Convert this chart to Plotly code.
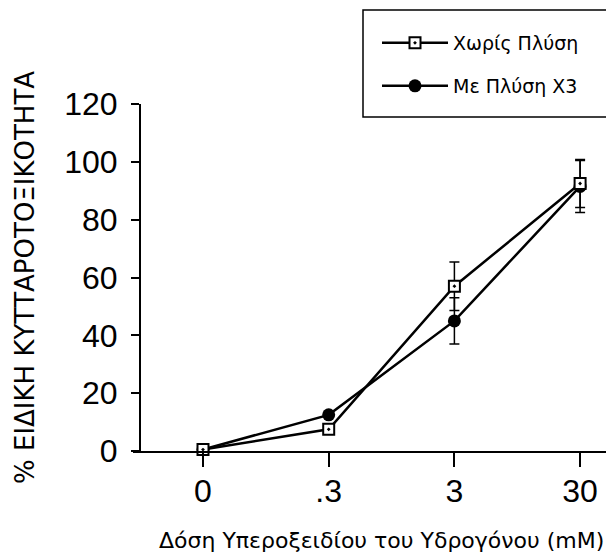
import plotly.graph_objects as go

dose_labels = ["0", ".3", "3", "30"]
dose_pos = [0, 1, 2, 3]

no_wash_name = "Χωρίς Πλύση"
no_wash = [0.5, 7.5, 57, 92.5]
no_wash_err = [0, 0, 8.4, 8.3]

wash_name = "Με Πλύση X3"
wash = [0.5, 12.5, 45, 91.5]
wash_err = [0, 0, 8, 9]

y_ticks = [0, 20, 40, 60, 80, 100, 120]

FONT = "Liberation Sans"
TFONT = "DejaVu Sans"

# page has an 8px body margin; layout is specified in window pixels
OFF = 8
W, H = 614 - OFF, 554 - OFF
plot_left = 133
plot_top, plot_bottom = 104, 451      # window px (y=120 .. y=0)
L = plot_left - OFF
R = 0
T = plot_top - OFF
B = H - (plot_bottom - OFF)
pw = W - L - R
ph = H - T - B


def px(xw):
    return (xw - plot_left) / pw


def py(yw):
    return (plot_bottom - yw) / ph


px_per_x = 125.7
x0_win = 203
xr = [(plot_left - x0_win) / px_per_x, (plot_left + pw - x0_win) / px_per_x]

fig = go.Figure()
fig.add_trace(go.Scatter(
    x=dose_pos, y=wash, name=wash_name, mode="lines+markers",
    line=dict(color="black", width=2.5),
    marker=dict(symbol="circle", size=13, color="black"),
    error_y=dict(type="data", array=wash_err, visible=True, color="black", thickness=1.5, width=5),
    cliponaxis=False, legend="legend2",
))
fig.add_trace(go.Scatter(
    x=dose_pos, y=no_wash, name=no_wash_name, mode="lines+markers",
    line=dict(color="black", width=2.5),
    marker=dict(symbol="square-dot", size=11, color="white", line=dict(color="black", width=2)),
    error_y=dict(type="data", array=no_wash_err, visible=True, color="black", thickness=1.5, width=5),
    cliponaxis=False, legend="legend",
))

leg_common = dict(
    xanchor="left", yanchor="middle",
    font=dict(size=19, family=TFONT), bgcolor="rgba(0,0,0,0)",
    itemwidth=66,
)

fig.update_layout(
    width=W, height=H,
    margin=dict(l=L, r=R, t=T, b=B),
    paper_bgcolor="white", plot_bgcolor="white",
    font=dict(family=FONT, color="black"),
    showlegend=True,
    legend=dict(x=px(377), y=py(43), **leg_common),
    legend2=dict(x=px(377), y=py(86), **leg_common),
    xaxis=dict(
        range=xr, tickvals=dose_pos, ticktext=dose_labels,
        showline=True, linecolor="black", linewidth=2,
        ticks="outside", ticklen=14, tickwidth=2, tickcolor="black",
        tickfont=dict(size=32, family=FONT), showgrid=False, zeroline=False,
        ticklabelstandoff=-3,
    ),
    yaxis=dict(
        range=[0, 120], tickvals=y_ticks, anchor="free", position=px(140),
        showline=True, linecolor="black", linewidth=2,
        ticks="outside", ticklen=8, tickwidth=2, tickcolor="black",
        tickfont=dict(size=32, family=FONT), showgrid=False, zeroline=False,
        ticklabelstandoff=7,
    ),
    shapes=[dict(
        type="rect", xref="paper", yref="paper",
        x0=px(363), x1=px(608), y0=py(117), y1=py(10),
        line=dict(color="black", width=1.5),
    )],
    annotations=[
        dict(text="% ΕΙΔΙΚΗ ΚΥΤΤΑΡΟΤΟΞΙΚΟΤΗΤΑ", textangle=-90,
             xref="paper", yref="paper", x=px(25), y=py(278),
             xanchor="center", yanchor="middle", showarrow=False,
             font=dict(size=26, family=TFONT)),
        dict(text="Δόση Υπεροξειδίου του Υδρογόνου (mM)",
             xref="paper", yref="paper", x=px(381), y=py(540),
             xanchor="center", yanchor="middle", showarrow=False,
             font=dict(size=22, family=TFONT)),
    ],
)

fig.write_html("out.html")
